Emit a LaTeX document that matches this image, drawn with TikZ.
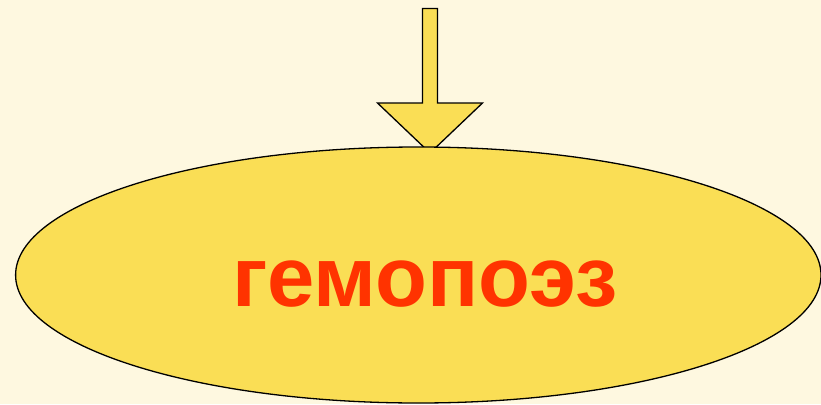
\documentclass[tikz,border=0pt]{standalone}
\usepackage{fontspec}
\setmainfont{Liberation Sans}
\definecolor{bgc}{RGB}{254,248,224}
\definecolor{fillc}{RGB}{250,222,85}
\definecolor{textc}{RGB}{255,51,0}
\begin{document}
\begin{tikzpicture}[x=1pt,y=-1pt,
  shapeline/.style={draw=black,line width=1.3pt,fill=fillc,line join=miter},
  label/.style={text=textc,font=\fontsize{85}{85}\selectfont\bfseries,inner sep=0pt}]
\fill[bgc] (0,0) rectangle (821,404);
\useasboundingbox (0,0) rectangle (821,404);
\draw[shapeline] (422.5,8.5) -- (437.5,8.5) -- (437.5,103) -- (482.5,103) -- (430,153) -- (377.5,103) -- (422.5,103) -- cycle;
\draw[shapeline,line width=1.3pt] (418.3,275) ellipse [x radius=402.7, y radius=128];
\node[label,anchor=base] (t) at (425,306) {гемопоэз};
\end{tikzpicture}
\end{document}
